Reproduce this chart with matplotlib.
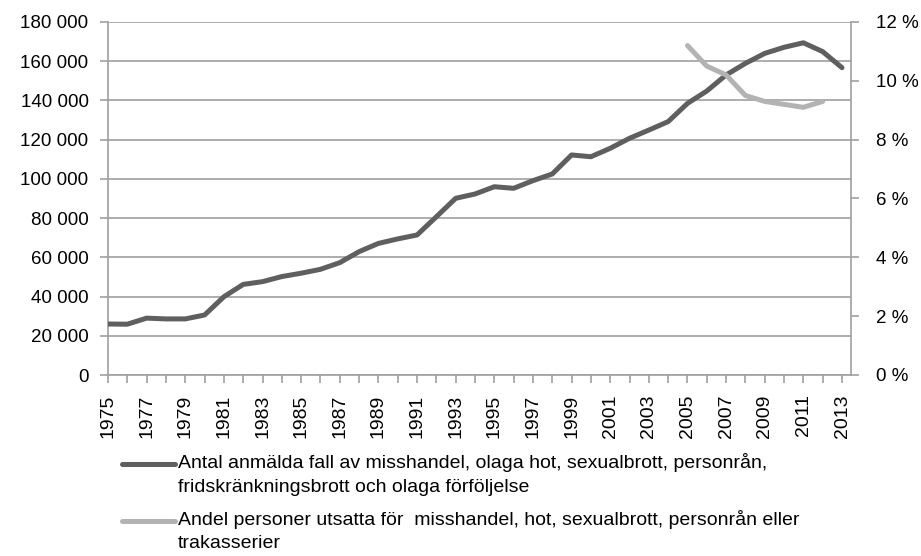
import matplotlib
matplotlib.use("Agg")
import matplotlib.pyplot as plt
from matplotlib.lines import Line2D
from matplotlib.ticker import FuncFormatter, MultipleLocator

years = list(range(1975, 2014))
reported = [26000, 25900, 29000, 28600, 28600, 30600, 39900, 46200, 47600, 50200,
            51900, 53900, 57300, 62900, 67100, 69400, 71400, 80700, 90100, 92300,
            96000, 95200, 99100, 102500, 112200, 111300, 115600, 120700, 124900, 129200,
            138500, 144800, 153000, 158900, 164000, 167100, 169400, 164900, 156700]
share_years = list(range(2005, 2013))
share = [11.2, 10.5, 10.2, 9.5, 9.3, 9.2, 9.1, 9.3]

label1 = "Antal anmälda fall av misshandel, olaga hot, sexualbrott, personrån,\nfridskränkningsbrott och olaga förföljelse"
label2 = "Andel personer utsatta för  misshandel, hot, sexualbrott, personrån eller\ntrakasserier"

plt.rcParams['font.family'] = ['Liberation Sans', 'DejaVu Sans']
FS = 13.5
GRID = '#a0a0a0'
DARK = '#5f5f5f'
LIGHT = '#b3b3b3'

fig = plt.figure(figsize=(9.21, 5.56), dpi=100)
W, H = 921, 556
x0, x1, ytop, ybot = 108, 851, 22, 375
ax = fig.add_axes([x0 / W, 1 - ybot / H, (x1 - x0) / W, (ybot - ytop) / H])

idx = list(range(len(years)))
ax.plot(idx, reported, color=DARK, lw=3.6, solid_capstyle='round', zorder=3)
ax.set_ylim(0, 180000)
ax.set_xlim(0, (x1 - x0) / ((843 - 109) / 38))
ax.yaxis.set_major_locator(MultipleLocator(20000))
ax.yaxis.set_major_formatter(FuncFormatter(lambda v, p: f"{int(v):,}".replace(",", " ")))
ax.grid(axis='y', color=GRID, lw=1.2)
ax.set_axisbelow(True)
ax.set_xticks(idx)
ax.set_xticklabels([str(y) if (y - 1975) % 2 == 0 else "" for y in years], rotation=90)
for s in ['top', 'right']:
    ax.spines[s].set_visible(False)
for s in ['left', 'bottom']:
    ax.spines[s].set_color(GRID)
    ax.spines[s].set_linewidth(1.2)
ax.tick_params(axis='both', colors=GRID, labelcolor='black', labelsize=FS, length=6, width=1.2)
ax.tick_params(axis='y', pad=8)
ax.tick_params(axis='x', pad=8, labelsize=14)

ax2 = ax.twinx()
sidx = [years.index(y) for y in share_years]
ax2.plot(sidx, share, color=LIGHT, lw=3.6, solid_capstyle='round', zorder=3)
ax2.set_ylim(0, 12)
ax2.yaxis.set_major_locator(MultipleLocator(2))
ax2.yaxis.set_major_formatter(FuncFormatter(lambda v, p: f"{int(v)} %"))
for s in ['top', 'left', 'bottom']:
    ax2.spines[s].set_visible(False)
ax2.spines['right'].set_color(GRID)
ax2.spines['right'].set_linewidth(1.2)
ax2.tick_params(axis='y', colors=GRID, labelcolor='black', labelsize=FS, length=6, width=1.2, pad=12)

# legend
def fx(px):
    return px / W
def fy(py):
    return 1 - py / H

for (hy, col, lab) in [(464, DARK, label1), (521, LIGHT, label2)]:
    fig.add_artist(Line2D([fx(122), fx(175)], [fy(hy), fy(hy)], color=col, lw=3.6,
                          solid_capstyle='round', transform=fig.transFigure))
    fig.text(fx(178), fy(hy - 11), lab, fontsize=14, va='top', ha='left', linespacing=1.5)

fig.savefig("out.png", dpi=100)
